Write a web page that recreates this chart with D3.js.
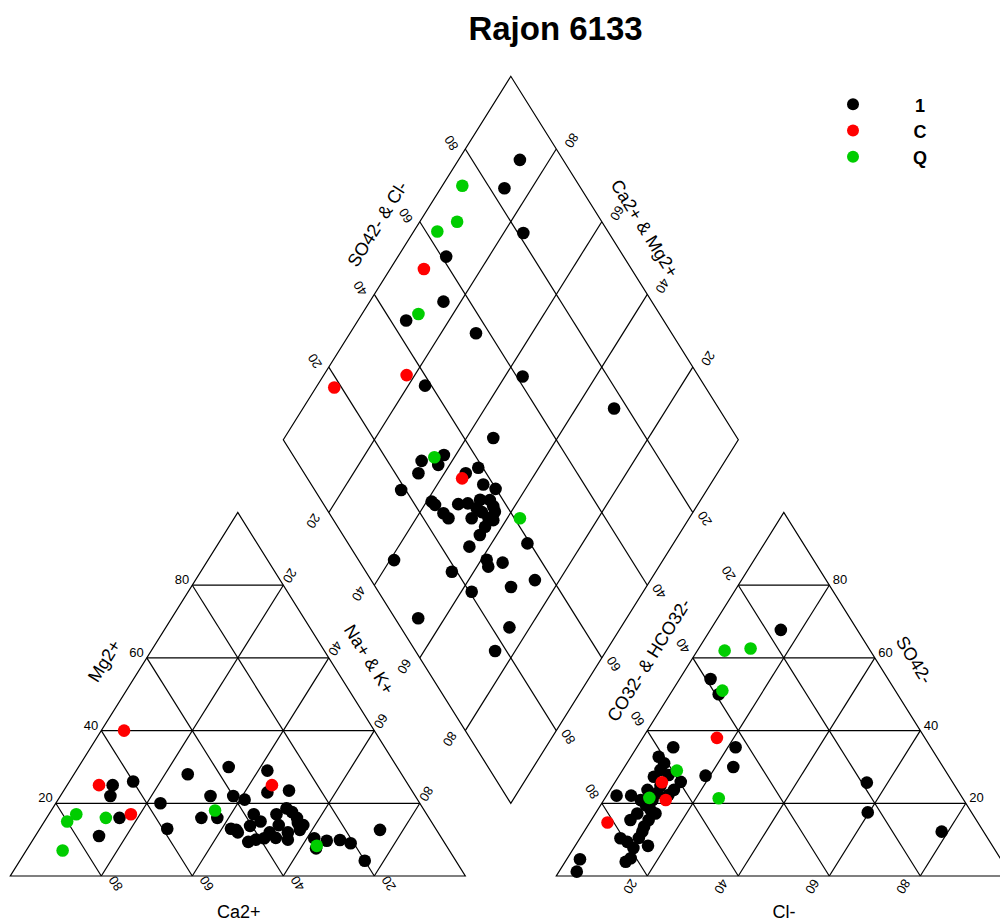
<!DOCTYPE html>
<html><head><meta charset="utf-8">
<script src="https://cdn.jsdelivr.net/npm/d3@7"></script>
<style>body{margin:0;background:#fff} text{font-family:"Liberation Sans", Arial, sans-serif}</style>
</head><body><svg id="c" width="1000" height="922"></svg>
<script>
const title = "Rajon 6133";
const groups = ["1","C","Q"];
const groupColors = ["#000000","#ff0000","#00cd00"];
const tickValues = [20,40,60,80];

// cation triangle: [Ca %, Mg %]  (Na+K = 100 - Ca - Mg)
const cation1 = [[65,25],[60,26],[67,22],[68,16],[75,11],[47,28],[37,30],[57,20],[59,13],[45,22],[40,22],[38,21],[50,16],[46.5,16],[45,13],[44,12],[43,9.4],[29,29],[32,23],[27,23.5],[38,17],[37.5,15],[30,18.6],[29,16],[28.6,14],[34,14],[33,12],[37,12],[41,10],[44,12.7],[39,10.4],[34,10],[28,10.4],[25.6,9.7],[22.6,9.9],[20.7,9],[29,7.6],[12.4,12.7],[20,4.2],[33,17],[30,12.7],[40.4,13.8],[36.4,10.5],[29.5,14.6],[29.3,17.6]];
const cationC = [[55,40],[68,25],[65,17],[30,25]];
const cationQ = [[77,17],[80,15],[71,16],[85,7],[46,18],[28.5,8.3]];

// anion triangle: [Cl %, SO4 %]  (CO3+HCO3 = 100 - Cl - SO4)
const anion1 = [[15.5,67.7],[6.8,54.2],[10.7,50],[8,35.4],[21.7,35.4],[23.9,30],[19,27.6],[6.1,32.8],[8.2,31],[7.8,27.3],[8.2,23.7],[14.4,25.9],[2.2,22.1],[5.4,22.1],[8.1,20.9],[10.8,22.8],[11.6,18.2],[13.2,17.2],[9.2,17.2],[8.6,15.4],[12.5,13.6],[12.8,12.2],[8.9,10.4],[10.9,9.4],[16,8.3],[13.9,4.9],[13.3,3.9],[2.9,4.6],[3.9,1.2],[55.4,25.7],[59.7,17.5],[78.6,12.2],[10.5,24.8],[10.8,27.8],[9.9,19.5],[14,23.7],[10.7,20.9],[12.6,15.4],[12.9,10.5],[13.1,7.7],[8.3,29.2],[13.5,22.3]];
const anionC = [[16.3,38],[10.3,25.8],[13.6,20.9],[3.9,14.7]];
const anionQ = [[6,62],[11.4,62.6],[11,51],[12,29],[9.7,21.5],[25,21.4]];

// diamond: [Na+K %, SO4+Cl %]
const diamond1 = [[13.5,90.5],[14,83.2],[24.3,81.2],[10.6,61],[16.2,54.2],[10.6,43.4],[27.7,57],[23.7,38.6],[43.9,61.3],[68.4,77],[45.9,46.4],[37.4,33.2],[33.3,27.5],[34.3,25.1],[37.5,30.6],[44.7,35.5],[46.7,39],[32.8,19],[50.1,37.8],[53.4,39.9],[41.1,24.1],[42.3,24.4],[45.3,25.1],[47.1,25.5],[47.3,29.6],[49.3,31.8],[51.5,35],[51.9,33.1],[55.3,37],[56.4,36.6],[55.9,34.3],[52.2,30.6],[56.3,32.4],[56.3,30.1],[57.2,35.1],[55.6,26.2],[67.9,39.4],[61.2,28.2],[62.5,27.6],[65.1,31.3],[55.2,18.9],[40.9,7.8],[74.6,36],[70.3,29.8],[62.3,20.5],[54.2,5.1],[75.5,23.9],[75.6,17.5],[53.7,37.1],[53.6,33.7]];
const diamondC = [[7.4,54.4],[18.2,36],[4,18.4],[44.6,34]];
const diamondQ = [[4.4,74.3],[8.2,68.2],[5.2,62.5],[12.4,47],[35.6,30.8],[62.8,41.2]];

const H = Math.sqrt(3)/2, G = 0.2;
const x = d3.scaleLinear().domain([0, 2+G]).range([10.3, 10.3 + 455*(2+G)]);
const y = d3.scaleLinear().domain([0, H]).range([876, 876-363.5]);

const cat = (ca, mg) => { const na = 100-ca-mg; return [x((na + mg/2)/100), y(H*mg/100)]; };
const an = (cl, so4) => [x(1+G + (cl + so4/2)/100), y(H*so4/100)];
const dia = (n, s) => [x(0.5+G/2 + 0.5*(s+n)/100), y((1+G)*H + H*(s-n)/100)];

const svg = d3.select("#c");
const line = d3.line();
const gGrid = svg.append("g").attr("fill","none").attr("stroke","#000").attr("stroke-width",1.2);

function poly(pts){ gGrid.append("path").attr("d", line(pts) + "Z"); }
function seg(a,b){ gGrid.append("path").attr("d", line([a,b])); }

poly([cat(100,0), cat(0,0), cat(0,100)]);
poly([an(0,0), an(100,0), an(0,100)]);
poly([dia(0,0), dia(0,100), dia(100,100), dia(100,0)]);
tickValues.forEach(k => {
  seg(cat(100-k,k), cat(0,k));
  seg(cat(100-k,0), cat(0,100-k));
  seg(cat(k,0), cat(k,100-k));
  seg(an(0,k), an(100-k,k));
  seg(an(k,0), an(k,100-k));
  seg(an(100-k,0), an(0,100-k));
  seg(dia(0,k), dia(100,k));
  seg(dia(k,0), dia(k,100));
});

const gLab = svg.append("g").attr("font-size", 13).attr("fill","#000");
function rotLab(p, dx, dy, rot, t){
  gLab.append("text").attr("text-anchor","middle").attr("dominant-baseline","central")
    .attr("transform", `translate(${p[0]+dx},${p[1]+dy}) rotate(${rot})`).text(t);
}
tickValues.forEach(k => {
  gLab.append("text").attr("x", cat(100-k,k)[0]-3).attr("y", cat(100-k,k)[1]-1).attr("text-anchor","end").text(k);
  rotLab(cat(0,100-k), 6.5, -9.5, 122, k);
  rotLab(cat(k,0), 14.5, 7.5, -122, k);
  rotLab(an(0,100-k), -9.6, -11.9, -122, k);
  rotLab(an(k,0), -17, 10.5, 122, k);
  gLab.append("text").attr("x", an(100-k,k)[0]+3.5).attr("y", an(100-k,k)[1]-1).attr("text-anchor","start").text(k);
  rotLab(dia(0,k), -13.9, -6, -122, k);
  rotLab(dia(100-k,100), 15.2, -8.6, 122, k);
  rotLab(dia(k,0), -15.6, 8.4, 122, k);
  rotLab(dia(100,100-k), 12, 6.1, -122, k);
});

const gT = svg.append("g").attr("font-size", 18).attr("fill","#000");
function axTitle(cx, cy, rot, t){
  gT.append("text").attr("text-anchor","middle").attr("dominant-baseline","central")
    .attr("transform", `translate(${cx},${cy}) rotate(${rot})`).text(t);
}
axTitle(104.5, 661, -58, "Mg2+");
axTitle(369, 659.5, 58, "Na+ & K+");
axTitle(238.7, 911.5, 0, "Ca2+");
axTitle(784, 911.5, 0, "Cl-");
axTitle(914, 660, 58, "SO42-");
axTitle(649, 660, -58, "CO32- & HCO32-");
axTitle(377.5, 224, -58, "SO42- & Cl-");
axTitle(644.5, 228.5, 58, "Ca2+ & Mg2+");

svg.append("text").attr("x", 555.5).attr("y", 39.5).attr("text-anchor","middle")
  .attr("font-size", 33).attr("font-weight","bold").text(title);

const sets = [
  {cat: cation1, an: anion1, dia: diamond1},
  {cat: cationC, an: anionC, dia: diamondC},
  {cat: cationQ, an: anionQ, dia: diamondQ}
];
const gPts = svg.append("g");
sets.forEach((s, i) => {
  const pts = [].concat(s.cat.map(d => cat(d[0], d[1])), s.an.map(d => an(d[0], d[1])), s.dia.map(d => dia(d[0], d[1])));
  gPts.append("g").attr("fill", groupColors[i]).selectAll("circle").data(pts).join("circle")
    .attr("cx", d => d[0]).attr("cy", d => d[1]).attr("r", 6.3);
});

const legY = d3.scaleLinear().domain([0, 2]).range([104.3, 156.7]);
const gLeg = svg.append("g");
groups.forEach((g, i) => {
  gLeg.append("circle").attr("cx", 853).attr("cy", legY(i)).attr("r", 6).attr("fill", groupColors[i]);
  gLeg.append("text").attr("x", 920).attr("y", legY(i) + 7.3).attr("text-anchor","middle")
    .attr("font-size", 18).attr("font-weight","bold").text(g);
});
</script></body></html>
